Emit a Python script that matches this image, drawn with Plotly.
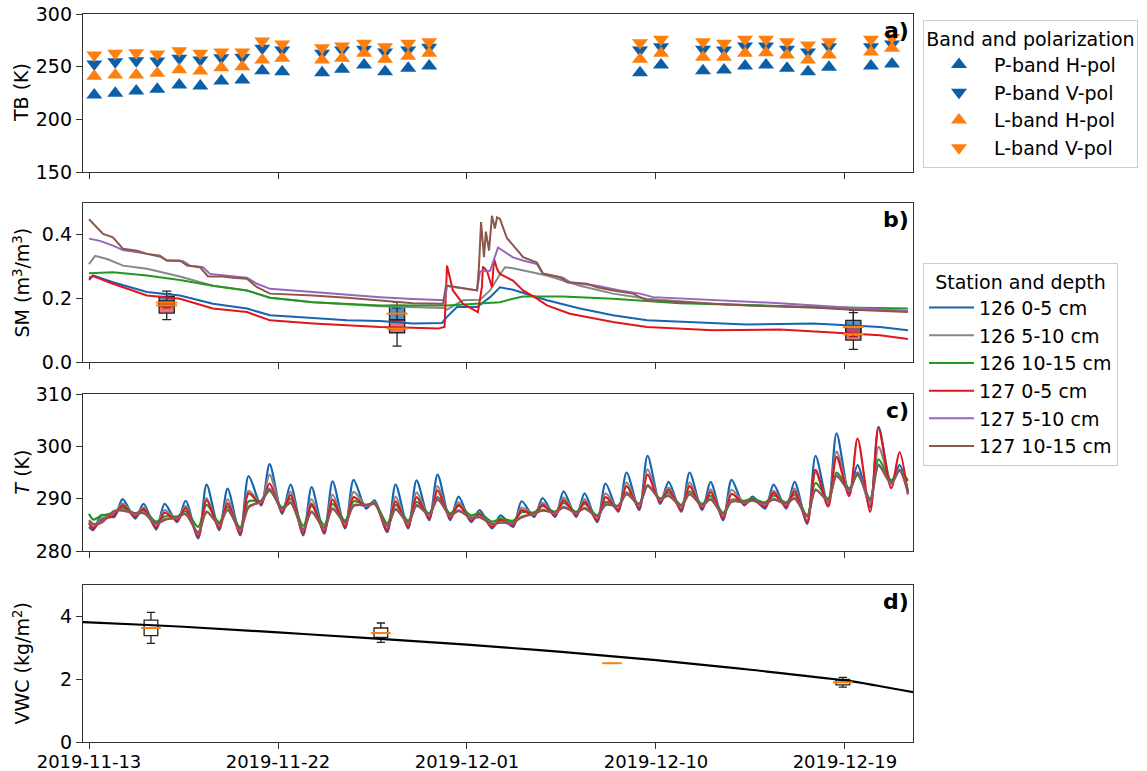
import plotly.graph_objects as go
import pandas as pd

BASE = pd.Timestamp("2019-11-13")


def to_dt(days):
    return [BASE + pd.Timedelta(days=float(d)) for d in days]


# ---------------- panel a: brightness temperatures ----------------
tb_days = [0.25, 1.25, 2.25, 3.25, 4.3, 5.3, 6.3, 7.3, 8.25, 9.2, 11.1, 12.05, 13.1, 14.1, 15.2, 16.2,
           26.24, 27.24, 29.24, 30.24, 31.24, 32.24, 33.24, 34.24, 35.24, 37.24, 38.24]
tb_p_h = [223.0, 224.7, 227.0, 228.5, 232.6, 231.6, 236.4, 237.3, 246.2, 245.2, 244.3, 247.5, 251.6, 245.2, 248.4, 250.6,
          244.3, 251.6, 246.2, 246.8, 250.6, 251.6, 248.4, 245.2, 249.4, 250.6, 252.5]
tb_p_v = [252.5, 254.7, 255.7, 255.4, 258.0, 256.3, 258.5, 258.9, 267.4, 265.8, 262.7, 265.8, 266.5, 264.0, 265.8, 268.4,
          265.8, 269.0, 266.5, 265.8, 269.6, 269.6, 266.5, 264.0, 269.0, 269.0, 271.5]
tb_l_h = [241.0, 242.0, 242.0, 243.7, 247.0, 246.0, 249.0, 250.0, 256.3, 258.0, 256.3, 258.0, 262.7, 257.0, 260.0, 262.7,
          257.0, 262.7, 258.9, 258.9, 262.7, 263.3, 261.0, 256.3, 261.0, 264.0, 267.4]
tb_l_v = [261.0, 262.7, 263.3, 262.0, 265.0, 262.7, 264.0, 264.0, 274.4, 271.5, 268.0, 269.6, 272.2, 269.0, 272.2, 273.7,
          272.8, 276.0, 273.7, 272.2, 276.0, 276.0, 273.7, 270.6, 273.7, 276.0, 277.8]

# ---------------- panel b: soil moisture ----------------
sm126_05_d = [0.0, 0.19, 1.14, 1.95, 2.76, 4.33, 5.90, 7.52, 8.62, 10.67, 12.29, 13.86, 15.43, 16.81, 17.05, 17.52,
              18.48, 19.1, 19.57, 20.19, 21.81, 23.38, 24.95, 26.57, 28.14, 31.33, 34.48, 36.1, 37.67, 39.0]
sm126_05_v = [0.258, 0.272, 0.251, 0.235, 0.220, 0.209, 0.183, 0.168, 0.147, 0.138, 0.131, 0.129, 0.121, 0.123, 0.142,
              0.173, 0.173, 0.204, 0.235, 0.227, 0.194, 0.168, 0.147, 0.131, 0.126, 0.118, 0.121, 0.116, 0.110, 0.100]
sm126_510_d = [0.0, 0.29, 0.86, 1.62, 2.76, 3.52, 4.33, 5.90, 7.52, 8.62, 10.67, 13.86, 16.86, 17.05, 17.81, 18.62,
               19.1, 19.57, 19.81, 20.19, 21.81, 23.38, 24.95, 26.57, 29.71, 32.9, 36.1, 39.0]
sm126_510_v = [0.308, 0.334, 0.324, 0.303, 0.293, 0.282, 0.269, 0.240, 0.225, 0.202, 0.188, 0.175, 0.170, 0.165, 0.194,
               0.196, 0.225, 0.275, 0.298, 0.295, 0.272, 0.240, 0.215, 0.199, 0.183, 0.175, 0.168, 0.160]
sm126_1015_d = [0.0, 1.14, 2.76, 4.33, 5.90, 7.52, 8.62, 10.67, 13.86, 17.05, 18.62, 19.57, 20.19, 20.67, 22.57, 24.95,
                28.14, 31.33, 34.48, 39.0]
sm126_1015_v = [0.279, 0.282, 0.272, 0.258, 0.240, 0.225, 0.202, 0.188, 0.178, 0.178, 0.184, 0.188, 0.199, 0.206, 0.206,
                0.199, 0.185, 0.178, 0.173, 0.168]
sm127_05_d = [0.0, 0.19, 1.14, 2.76, 4.33, 5.90, 7.52, 8.62, 10.67, 12.29, 13.86, 15.43, 16.62, 16.93, 17.05, 17.33,
              17.81, 18.52, 18.71, 18.76, 18.95, 19.19, 19.29, 19.43, 19.57, 20.19, 20.67, 21.33, 21.81, 22.9, 24.95,
              26.57, 29.71, 32.9, 36.1, 37.67, 39.0]
sm127_05_v = [0.265, 0.270, 0.246, 0.209, 0.199, 0.168, 0.157, 0.131, 0.121, 0.116, 0.110, 0.108, 0.105, 0.110, 0.303,
              0.225, 0.183, 0.157, 0.235, 0.300, 0.287, 0.235, 0.324, 0.293, 0.277, 0.256, 0.225, 0.199, 0.178, 0.152,
              0.126, 0.110, 0.100, 0.102, 0.090, 0.084, 0.072]
sm127_510_d = [0.0, 0.52, 1.14, 1.62, 2.76, 3.38, 3.71, 4.48, 4.81, 5.43, 5.76, 7.52, 8.0, 8.62, 10.67, 12.29, 13.86,
               15.43, 16.95, 17.05, 18.48, 18.62, 19.1, 19.48, 20.19, 20.67, 21.33, 21.62, 22.57, 22.9, 24.19, 25.29,
               26.24, 26.86, 29.71, 32.9, 36.1, 39.0]
sm127_510_v = [0.388, 0.381, 0.366, 0.352, 0.340, 0.331, 0.319, 0.317, 0.303, 0.298, 0.277, 0.265, 0.246, 0.230, 0.220,
               0.211, 0.204, 0.198, 0.194, 0.240, 0.225, 0.285, 0.287, 0.360, 0.329, 0.319, 0.308, 0.277, 0.265, 0.251,
               0.240, 0.225, 0.215, 0.204, 0.194, 0.185, 0.171, 0.160]
sm127_1015_d = [0.0, 0.67, 1.14, 1.62, 2.29, 2.76, 3.38, 3.71, 4.33, 4.67, 5.29, 5.67, 6.38, 6.86, 7.52, 8.0, 8.62, 9.9,
                10.67, 12.29, 13.86, 15.43, 16.86, 17.0, 18.48, 18.57, 18.67, 18.81, 18.9, 19.05, 19.19, 19.33, 19.43,
                19.57, 19.9, 20.67, 21.33, 21.62, 22.43, 22.76, 23.71, 24.19, 24.95, 25.9, 26.57, 28.14, 31.33, 34.48,
                36.1, 39.0]
sm127_1015_v = [0.449, 0.403, 0.392, 0.356, 0.350, 0.340, 0.334, 0.319, 0.319, 0.303, 0.298, 0.269, 0.269, 0.265, 0.262,
                0.235, 0.215, 0.212, 0.209, 0.202, 0.194, 0.185, 0.183, 0.240, 0.225, 0.300, 0.440, 0.330, 0.410, 0.350,
                0.460, 0.420, 0.455, 0.450, 0.390, 0.330, 0.313, 0.278, 0.267, 0.251, 0.246, 0.235, 0.225, 0.215, 0.194,
                0.189, 0.178, 0.171, 0.165, 0.157]

# in-situ sampling boxes (SM)
smbox_days = [3.7, 14.67, 36.4]
smbox126 = dict(lf=[0.170, 0.125, 0.080], q1=[0.175, 0.131, 0.090], med=[0.187, 0.152, 0.110],
                q3=[0.206, 0.178, 0.131], uf=[0.223, 0.188, 0.1625])
smbox127 = dict(lf=[0.133, 0.050, 0.040], q1=[0.154, 0.092, 0.069], med=[0.178, 0.105, 0.0875],
                q3=[0.192, 0.133, 0.110], uf=[0.215, 0.170, 0.155])

# ---------------- panel c: soil temperature (daily trough / peak) ----------------
n_days = 39
t_days = [0.0]
for i in range(n_days):
    t_days += [i + 0.2, i + 0.6]
t_days += [39.0]

t_start = dict(b=284.6, g=285.5, gr=287.1, r=285.3, p=285.6, br=285.9)
t_end = dict(b=291.3, g=291.6, gr=293.4, r=290.8, p=291.0, br=291.2)
t126_05_min = [284.0, 286.5, 286.2, 284.1, 285.5, 282.4, 284.0, 283.0, 288.7, 287.1, 283.0, 283.3, 284.3, 288.1, 283.6,
               284.3, 285.9, 285.9, 285.5, 284.3, 284.6, 286.5, 286.5, 286.5, 285.5, 287.5, 287.8, 289.0, 287.5, 287.8,
               285.9, 288.7, 288.1, 288.1, 285.2, 288.7, 291.0, 288.4, 292.9]
t126_05_max = [286.9, 289.9, 289.0, 289.0, 289.6, 292.7, 291.9, 294.3, 296.6, 292.7, 292.2, 293.3, 293.6, 289.7, 292.7,
               293.5, 294.6, 290.4, 287.8, 286.8, 289.5, 290.1, 291.4, 291.0, 292.9, 295.0, 298.2, 293.2, 295.0, 293.2,
               293.6, 290.4, 292.7, 293.2, 298.2, 302.5, 296.4, 303.7, 296.4]
t126_510_min = [284.5, 287.0, 286.7, 284.6, 286.0, 282.9, 284.5, 283.5, 289.2, 287.6, 283.5, 283.8, 284.8, 288.6, 284.1,
                284.8, 286.4, 286.4, 286.0, 284.8, 285.1, 287.0, 287.0, 287.0, 286.0, 288.0, 288.3, 289.5, 288.0, 288.3,
                286.4, 289.2, 288.6, 288.6, 285.7, 289.2, 291.5, 288.9, 293.4]
t126_510_max = [286.2, 289.1, 288.3, 287.8, 288.6, 290.1, 289.9, 291.5, 294.6, 291.3, 289.9, 290.8, 291.3, 289.3, 290.4,
                291.2, 292.4, 289.3, 287.2, 286.2, 288.3, 289.2, 290.2, 289.9, 291.0, 293.1, 295.6, 292.1, 293.1, 291.8,
                291.7, 290.0, 291.5, 291.9, 295.0, 299.0, 295.0, 299.9, 295.5]
t126_1015_min = [286.0, 287.3, 287.2, 285.6, 286.6, 284.6, 285.5, 284.5, 289.6, 288.3, 284.8, 285.0, 285.8, 288.8, 285.3,
                 285.8, 287.2, 287.2, 286.8, 285.6, 285.8, 287.4, 287.5, 287.5, 286.8, 288.6, 289.0, 290.0, 288.8, 289.0,
                 287.3, 289.6, 289.3, 289.3, 286.8, 290.0, 292.0, 290.0, 293.5]
t126_1015_max = [286.8, 288.3, 287.8, 286.6, 287.6, 288.8, 288.5, 289.5, 291.5, 290.0, 288.6, 289.0, 289.5, 289.2, 288.8,
                 289.4, 290.3, 288.6, 287.2, 286.2, 287.4, 288.6, 289.2, 289.0, 289.4, 291.2, 292.6, 291.2, 291.4, 290.6,
                 289.8, 290.0, 290.6, 290.8, 293.0, 295.0, 294.5, 297.5, 295.5]
t127_05_min = [284.3, 286.8, 286.5, 284.4, 285.8, 282.7, 284.3, 283.3, 289.0, 287.4, 283.3, 283.6, 284.6, 288.4, 283.9,
               284.6, 286.2, 286.2, 285.8, 284.6, 284.9, 286.8, 286.8, 286.8, 285.8, 287.8, 288.1, 289.3, 287.8, 288.1,
               286.2, 289.0, 288.4, 288.4, 285.5, 288.5, 290.5, 287.5, 292.0]
t127_05_max = [285.9, 288.7, 288.0, 287.3, 288.2, 289.7, 289.1, 291.0, 292.9, 290.7, 289.0, 289.8, 290.3, 289.1, 289.5,
               290.3, 291.6, 288.8, 287.0, 285.9, 287.8, 288.8, 289.7, 289.4, 290.3, 292.4, 294.6, 291.7, 292.4, 291.3,
               290.9, 289.8, 291.1, 291.4, 295.5, 298.0, 301.5, 303.5, 298.9]
t127_510_min = [285.0, 287.5, 287.0, 285.1, 286.3, 283.4, 285.0, 284.0, 289.4, 287.9, 284.0, 284.3, 285.3, 288.6, 284.6,
                285.3, 286.9, 286.7, 286.2, 285.0, 285.3, 287.0, 287.2, 287.2, 286.5, 288.5, 288.8, 289.8, 288.5, 288.6,
                286.9, 289.2, 288.9, 288.9, 286.5, 289.6, 291.5, 289.5, 292.8]
t127_510_max = [285.6, 287.9, 287.4, 286.1, 287.2, 287.6, 288.0, 288.5, 291.9, 289.4, 287.6, 288.2, 288.8, 289.0, 288.1,
                288.8, 290.0, 287.8, 286.6, 285.5, 286.6, 287.9, 288.5, 288.3, 289.0, 291.0, 292.6, 290.7, 291.0, 290.0,
                289.6, 289.6, 290.0, 290.2, 291.8, 294.5, 295.0, 296.5, 295.5]
t127_1015_min = [285.2, 287.7, 287.2, 285.3, 286.5, 283.6, 285.2, 284.2, 289.6, 288.1, 284.2, 284.5, 285.5, 288.8, 284.8,
                 285.5, 287.1, 286.9, 286.4, 285.2, 285.5, 287.2, 287.4, 287.4, 286.7, 288.7, 289.0, 290.0, 288.7, 288.8,
                 287.1, 289.4, 289.1, 289.1, 286.7, 289.8, 291.7, 289.7, 293.0]
t127_1015_max = [285.4, 287.7, 287.2, 285.9, 287.0, 287.4, 287.8, 288.3, 291.7, 289.2, 287.4, 288.0, 288.6, 289.0, 287.9,
                 288.6, 289.8, 287.6, 286.4, 285.4, 286.4, 287.7, 288.3, 288.1, 288.8, 290.8, 292.4, 290.5, 290.8, 289.8,
                 289.4, 289.6, 289.8, 290.0, 291.6, 294.3, 294.8, 296.3, 295.3]

# ---------------- panel d: vegetation water content ----------------
vwc_days = [-0.29, 0.0, 4.5, 9.0, 13.5, 18.0, 22.5, 27.0, 31.5, 36.0, 37.5, 39.24]
vwc_vals = [3.82, 3.81, 3.67, 3.49, 3.30, 3.10, 2.87, 2.61, 2.30, 1.96, 1.80, 1.59]
vwcbox_days = [2.95, 13.9, 35.9]
vwcbox = dict(lf=[3.14, 3.17, 1.75], q1=[3.39, 3.33, 1.82], med=[3.63, 3.47, 1.90],
              q3=[3.88, 3.63, 1.99], uf=[4.13, 3.79, 2.06])
vwcmed_days = [2.95, 13.9, 24.9, 35.9]
vwcmed_vals = [3.63, 3.47, 2.51, 1.90]

# ---------------- labels ----------------
tick_labels = ["2019-11-13", "2019-11-22", "2019-12-01", "2019-12-10", "2019-12-19"]
series_names = ["126 0-5 cm", "126 5-10 cm", "126 10-15 cm", "127 0-5 cm", "127 5-10 cm", "127 10-15 cm"]
tb_names = ["P-band H-pol", "P-band V-pol", "L-band H-pol", "L-band V-pol"]

# ---------------- styling ----------------
W, H = 1147, 771
BLUE_M, ORANGE = "#0b5fa8", "#ff7f0e"
COLS = ["#1565b0", "#888888", "#1f9a1f", "#e0161d", "#9467bd", "#8c564b"]
FRAME = "#333333"
FONT = "DejaVu Sans"

fig = go.Figure()

# panel a
for vals, sym, col, name in [(tb_p_h, "triangle-up", BLUE_M, tb_names[0]),
                             (tb_p_v, "triangle-down", BLUE_M, tb_names[1]),
                             (tb_l_h, "triangle-up", ORANGE, tb_names[2]),
                             (tb_l_v, "triangle-down", ORANGE, tb_names[3])]:
    fig.add_trace(go.Scatter(x=to_dt(tb_days), y=vals, mode="markers", name=name,
                             marker=dict(symbol=sym, size=14, color=col, line=dict(width=0)),
                             xaxis="x", yaxis="y", legend="legend"))

# panel b
sm_series = [(sm126_05_d, sm126_05_v), (sm126_510_d, sm126_510_v), (sm126_1015_d, sm126_1015_v),
             (sm127_05_d, sm127_05_v), (sm127_510_d, sm127_510_v), (sm127_1015_d, sm127_1015_v)]
for (d, v), col, name in zip(sm_series, COLS, series_names):
    fig.add_trace(go.Scatter(x=to_dt(d), y=v, mode="lines", name=name, line=dict(color=col, width=2),
                             xaxis="x2", yaxis="y2", legend="legend2"))

BOXW = 0.72 * 86400000
for stats, fill in [(smbox126, "rgba(31,110,180,0.75)"), (smbox127, "rgba(220,40,40,0.65)")]:
    fig.add_trace(go.Box(x=to_dt(smbox_days), lowerfence=stats["lf"], q1=stats["q1"], median=stats["med"],
                         q3=stats["q3"], upperfence=stats["uf"], width=BOXW, whiskerwidth=0.6,
                         fillcolor=fill, line=dict(color="#222222", width=1.3), boxpoints=False,
                         showlegend=False, hoverinfo="skip", xaxis="x2", yaxis="y2"))
for stats in [smbox126, smbox127]:
    fig.add_trace(go.Scatter(x=to_dt(smbox_days), y=stats["med"], mode="markers", showlegend=False,
                             marker=dict(symbol="line-ew", size=15, line=dict(color=ORANGE, width=2)),
                             xaxis="x2", yaxis="y2"))

# panel c
t_series = [("b", t126_05_min, t126_05_max), ("g", t126_510_min, t126_510_max), ("gr", t126_1015_min, t126_1015_max),
            ("r", t127_05_min, t127_05_max), ("p", t127_510_min, t127_510_max), ("br", t127_1015_min, t127_1015_max)]
for (key, mins, maxs), col in zip(t_series, COLS):
    vals = [t_start[key]]
    for lo, hi in zip(mins, maxs):
        vals += [lo, hi]
    vals += [t_end[key]]
    fig.add_trace(go.Scatter(x=to_dt(t_days), y=vals, mode="lines", showlegend=False,
                             line=dict(color=col, width=2.2, shape="spline", smoothing=0.8),
                             xaxis="x3", yaxis="y3"))

# panel d
fig.add_trace(go.Scatter(x=to_dt(vwc_days), y=vwc_vals, mode="lines", showlegend=False,
                         line=dict(color="black", width=2.2, shape="spline"), xaxis="x4", yaxis="y4"))
fig.add_trace(go.Box(x=to_dt(vwcbox_days), lowerfence=vwcbox["lf"], q1=vwcbox["q1"], median=vwcbox["med"],
                     q3=vwcbox["q3"], upperfence=vwcbox["uf"], width=0.65 * 86400000, whiskerwidth=0.6,
                     fillcolor="rgba(255,255,255,0)", line=dict(color="#222222", width=1.3), boxpoints=False,
                     showlegend=False, hoverinfo="skip", xaxis="x4", yaxis="y4"))
fig.add_trace(go.Scatter(x=to_dt(vwcmed_days), y=vwcmed_vals, mode="markers", showlegend=False,
                         marker=dict(symbol="line-ew", size=14, line=dict(color=ORANGE, width=2)),
                         xaxis="x4", yaxis="y4"))

# ---------------- layout ----------------
XD = [83 / W, 913 / W]


def ydom(top, bot):
    return [1 - bot / H, 1 - top / H]


x_range = [BASE + pd.Timedelta(days=-0.286), BASE + pd.Timedelta(days=39.24)]
tick_dates = list(pd.to_datetime(tick_labels))

common_x = dict(domain=XD, type="date", range=x_range, showline=True, mirror=True, linecolor=FRAME,
                linewidth=1.3, ticks="outside", ticklen=6, tickwidth=1.3, tickcolor=FRAME,
                tickvals=tick_dates, ticktext=tick_labels, showgrid=False, zeroline=False, automargin=False)
common_y = dict(showline=True, mirror=True, linecolor=FRAME, linewidth=1.3, ticks="outside", ticklen=6,
                tickwidth=1.3, tickcolor=FRAME, showgrid=False, zeroline=False, automargin=False)

doms = [ydom(14, 172), ydom(203, 362), ydom(394, 551), ydom(585, 742)]

legend_common = dict(xanchor="left", yanchor="top", bgcolor="white", bordercolor="#cccccc", borderwidth=1,
                     font=dict(size=19), tracegroupgap=0)

layout = dict(
    width=W, height=H, margin=dict(l=0, r=0, t=0, b=0, autoexpand=False),
    paper_bgcolor="white", plot_bgcolor="white",
    font=dict(family=FONT, size=19, color="black"),
    boxmode="overlay",
    xaxis=dict(common_x, anchor="y", showticklabels=False),
    xaxis2=dict(common_x, anchor="y2", showticklabels=False),
    xaxis3=dict(common_x, anchor="y3", showticklabels=False),
    xaxis4=dict(common_x, anchor="y4", showticklabels=True, ticklabelstandoff=-3, tickfont=dict(size=18)),
    yaxis=dict(common_y, domain=doms[0], anchor="x", range=[150, 300], tickvals=[150, 200, 250, 300]),
    yaxis2=dict(common_y, domain=doms[1], anchor="x2", range=[0, 0.5], tickvals=[0.0, 0.2, 0.4],
                tickformat=".1f"),
    yaxis3=dict(common_y, domain=doms[2], anchor="x3", range=[280, 310], tickvals=[280, 290, 300, 310]),
    yaxis4=dict(common_y, domain=doms[3], anchor="x4", range=[0, 5], tickvals=[0, 2, 4]),
    legend=dict(legend_common, x=923 / W, y=1 - 20 / H, itemwidth=60,
                title=dict(text="Band and polarization", side="top center", font=dict(size=19))),
    legend2=dict(legend_common, x=923 / W, y=1 - 263 / H, itemwidth=45,
                 title=dict(text="Station and depth", side="top center", font=dict(size=19))),
)
fig.update_layout(**layout)

ytitles = ["TB (K)", "SM (m<sup>3</sup>/m<sup>3</sup>)", "<i>T</i> (K)", "VWC (kg/m<sup>2</sup>)"]
for dom, txt in zip(doms, ytitles):
    fig.add_annotation(text=txt, xref="paper", yref="paper", x=21 / W, y=(dom[0] + dom[1]) / 2,
                       textangle=-90, showarrow=False, font=dict(size=19), xanchor="center", yanchor="middle")

for dom, lab in zip(doms, ["a)", "b)", "c)", "d)"]):
    fig.add_annotation(text="<b>" + lab + "</b>", xref="paper", yref="paper", x=911 / W, y=dom[1] - 2 / H,
                       showarrow=False, font=dict(size=22), xanchor="right", yanchor="top")

fig.write_html("out.html")
